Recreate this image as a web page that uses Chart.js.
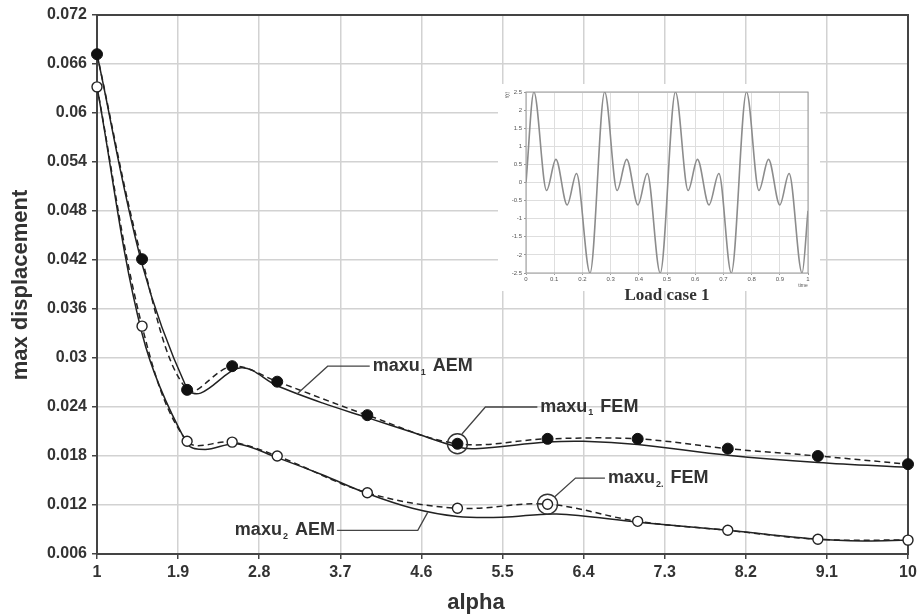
<!DOCTYPE html>
<html>
<head>
<meta charset="utf-8">
<script src="https://cdn.jsdelivr.net/npm/chart.js@4.4.1/dist/chart.umd.min.js"></script>
<style>
  html, body { margin: 0; padding: 0; background: #fff; }
  #contenedor { position: relative; width: 921px; height: 616px; }
  #graficaPrincipal { position: absolute; left: 0; top: 0; }
  #graficaCarga { position: absolute; left: 500px; top: 84px; }
</style>
</head>
<body>
<div id="contenedor">
  <canvas id="graficaPrincipal" width="921" height="616"></canvas>
  <canvas id="graficaCarga" width="318" height="205"></canvas>
</div>
<script>
// ---- Datos: desplazamiento máximo vs alpha ----
const alphaFem = [1, 1.5, 2, 2.5, 3, 4, 5, 6, 7, 8, 9, 10];
const maxu1Fem = [0.0672, 0.0421, 0.0261, 0.0290, 0.0271, 0.0230, 0.0195, 0.0201, 0.0201, 0.0189, 0.0180, 0.0170];
const maxu2Fem = [0.0632, 0.0339, 0.0198, 0.0197, 0.0180, 0.0135, 0.0116, 0.0121, 0.0100, 0.0089, 0.0078, 0.0077];

const alphaAem1 = [1, 1.5, 2, 2.15, 2.6, 3, 3.5, 4, 4.5, 5, 5.2, 6, 6.4, 7, 8, 9, 10];
const maxu1Aem  = [0.0672, 0.0415, 0.0262, 0.0257, 0.0288, 0.0266, 0.0245, 0.0227, 0.0209, 0.0191, 0.0189, 0.0197, 0.0198, 0.0194, 0.0181, 0.0172, 0.0166];
const alphaAem2 = [1, 1.5, 2, 2.2, 2.55, 3, 3.5, 4, 4.5, 5, 5.5, 6.1, 7, 8, 9, 9.5, 10];
const maxu2Aem  = [0.0632, 0.0330, 0.0195, 0.0188, 0.0195, 0.0178, 0.0157, 0.0134, 0.0116, 0.0106, 0.0105, 0.0109, 0.0099, 0.0089, 0.0078, 0.0076, 0.0077];

const ticksAlpha = [1, 1.9, 2.8, 3.7, 4.6, 5.5, 6.4, 7.3, 8.2, 9.1, 10];
const ticksDesp  = [0.006, 0.012, 0.018, 0.024, 0.03, 0.036, 0.042, 0.048, 0.054, 0.06, 0.066, 0.072];

// ---- Datos: caso de carga 1, f(t) ----
const cargaT = [0, 0.028, 0.073, 0.106, 0.146, 0.179, 0.227,
                0.279, 0.323, 0.357, 0.397, 0.430, 0.476,
                0.530, 0.575, 0.608, 0.649, 0.684, 0.728,
                0.782, 0.826, 0.860, 0.900, 0.933, 0.979, 1];
const cargaF = [0, 2.5, -0.22, 0.64, -0.62, 0.25, -2.5,
                2.5, -0.22, 0.64, -0.62, 0.25, -2.5,
                2.5, -0.22, 0.64, -0.62, 0.25, -2.5,
                2.5, -0.22, 0.64, -0.62, 0.25, -2.5, -0.78];
const ticksTiempo = [0, 0.1, 0.2, 0.3, 0.4, 0.5, 0.6, 0.7, 0.8, 0.9, 1];
const ticksCarga  = [-2.5, -2, -1.5, -1, -0.5, 0, 0.5, 1, 1.5, 2, 2.5];

const FUENTE = '"Liberation Sans", Arial, sans-serif';
const puntos = (xs, ys) => xs.map((x, i) => ({ x: x, y: ys[i] }));
const formato = v => String(+Number(v).toFixed(3));

// Rótulos con línea guía (coordenadas en unidades de los ejes)
const etiquetas = [
  { sub: '1',  resto: ' AEM', texto: [4.06, 0.0290], guia: [[3.56, 0.0290], [3.22, 0.0256]] },
  { sub: '1',  resto: ' FEM', texto: [5.92, 0.0240], guia: [[5.31, 0.0240], [5.05, 0.0207]] },
  { sub: '2.', resto: ' FEM', texto: [6.67, 0.0153], guia: [[6.31, 0.0153], [6.08, 0.0130]] },
  { sub: '2',  resto: ' AEM', texto: [2.53, 0.0089], guia: [[4.56, 0.0089], [4.67, 0.0111]], guiaDesdeFinal: true }
];

function dibujarEtiqueta(ctx, x0, y0, sub, resto) {
  ctx.fillStyle = '#333';
  ctx.textAlign = 'left';
  ctx.textBaseline = 'middle';
  ctx.font = 'bold 18px ' + FUENTE;
  ctx.fillText('maxu', x0, y0);
  let w = ctx.measureText('maxu').width + 1;
  ctx.font = 'bold 9px ' + FUENTE;
  ctx.fillText(sub, x0 + w, y0 + 6);
  w += ctx.measureText(sub).width + 2;
  ctx.font = 'bold 18px ' + FUENTE;
  ctx.fillText(resto, x0 + w, y0);
  return x0 + w + ctx.measureText(resto).width;
}

const pluginAnotaciones = {
  id: 'anotaciones',
  beforeDatasetsDraw(chart) {
    // fondo blanco para la gráfica de carga
    const ctx = chart.ctx;
    ctx.save();
    ctx.fillStyle = '#fff';
    ctx.fillRect(498, 84, 322, 207);
    ctx.restore();
  },
  afterDraw(chart) {
    const { ctx, chartArea: ca, scales: { x, y } } = chart;
    const px = v => x.getPixelForValue(v);
    const py = v => y.getPixelForValue(v);
    ctx.save();

    // círculos dobles en los puntos señalados
    ctx.lineWidth = 1.4;
    ctx.strokeStyle = '#333';
    [[alphaFem[6], maxu1Fem[6]], [alphaFem[7], maxu2Fem[7]]].forEach(p => {
      ctx.beginPath();
      ctx.arc(px(p[0]), py(p[1]), 10, 0, Math.PI * 2);
      ctx.stroke();
    });

    // rótulos y líneas guía
    etiquetas.forEach(et => {
      const tx = px(et.texto[0]), ty = py(et.texto[1]);
      const fin = dibujarEtiqueta(ctx, tx, ty, et.sub, et.resto);
      ctx.strokeStyle = '#444';
      ctx.lineWidth = 1.3;
      ctx.beginPath();
      ctx.moveTo(et.guiaDesdeFinal ? fin + 2 : tx - 3, ty);
      et.guia.forEach(g => ctx.lineTo(px(g[0]), py(g[1])));
      ctx.stroke();
    });

    // títulos de ejes
    ctx.fillStyle = '#333';
    ctx.font = 'bold 22px ' + FUENTE;
    ctx.textAlign = 'center';
    ctx.textBaseline = 'middle';
    ctx.fillText('alpha', 476, 603);
    ctx.save();
    ctx.translate(21, 285);
    ctx.rotate(-Math.PI / 2);
    ctx.fillText('max displacement', 0, 0);
    ctx.restore();

    // pie de la gráfica de carga
    ctx.fillStyle = '#333';
    ctx.font = 'bold 17px "Liberation Serif", "Times New Roman", serif';
    ctx.fillText('Load case 1', 667, 296);
    ctx.restore();
  }
};

// marco del área de trazado, debajo de los marcadores
const pluginMarco = {
  id: 'marco',
  beforeDatasetsDraw(chart) {
    const { ctx, chartArea: ca } = chart;
    ctx.save();
    ctx.strokeStyle = '#444';
    ctx.lineWidth = 2;
    ctx.strokeRect(ca.left, ca.top, ca.right - ca.left, ca.bottom - ca.top);
    ctx.restore();
  }
};

new Chart(document.getElementById('graficaPrincipal'), {
  type: 'line',
  data: {
    datasets: [
      { label: 'maxu1 FEM', data: puntos(alphaFem, maxu1Fem), order: 0, clip: false,
        borderColor: '#222', borderWidth: 1.5, borderDash: [6, 4],
        pointRadius: 5.5, pointBackgroundColor: '#111', pointBorderColor: '#111', pointBorderWidth: 1,
        tension: 0.35, fill: false },
      { label: 'maxu2 FEM', data: puntos(alphaFem, maxu2Fem), order: 0, clip: false,
        borderColor: '#222', borderWidth: 1.5, borderDash: [6, 4],
        pointRadius: 5, pointBackgroundColor: '#fff', pointBorderColor: '#222', pointBorderWidth: 1.4,
        tension: 0.35, fill: false },
      { label: 'maxu1 AEM', data: puntos(alphaAem1, maxu1Aem), order: 1,
        borderColor: '#222', borderWidth: 1.5, pointRadius: 0,
        tension: 0.35, fill: false },
      { label: 'maxu2 AEM', data: puntos(alphaAem2, maxu2Aem), order: 1,
        borderColor: '#222', borderWidth: 1.5, pointRadius: 0,
        tension: 0.35, fill: false }
    ]
  },
  options: {
    responsive: false, animation: false, events: [],
    layout: { padding: { top: 15, right: 13, left: 0, bottom: 0 } },
    plugins: { legend: { display: false }, tooltip: { enabled: false } },
    scales: {
      x: {
        type: 'linear', min: 1, max: 10,
        afterBuildTicks: eje => { eje.ticks = ticksAlpha.map(v => ({ value: v })); },
        afterFit: eje => { eje.height = 62; },
        grid: { color: '#d2d2d2', lineWidth: 1.5, tickLength: 5, tickColor: '#444', tickWidth: 1.5 },
        border: { display: false },
        ticks: { callback: formato, autoSkip: false, maxRotation: 0, padding: 4,
                 color: '#333', font: { family: FUENTE, size: 16, weight: 'bold' } }
      },
      y: {
        type: 'linear', min: 0.006, max: 0.072,
        afterBuildTicks: eje => { eje.ticks = ticksDesp.map(v => ({ value: v })); },
        afterFit: eje => { eje.width = 97; },
        grid: { color: '#d2d2d2', lineWidth: 1.5, tickLength: 5, tickColor: '#444', tickWidth: 1.5 },
        border: { display: false },
        ticks: { callback: formato, autoSkip: false, padding: 5,
                 color: '#333', font: { family: FUENTE, size: 16, weight: 'bold' } }
      }
    }
  },
  plugins: [pluginMarco, pluginAnotaciones]
});

// ---- Gráfica pequeña: f(t) del caso de carga ----
const pluginRotulosCarga = {
  id: 'rotulosCarga',
  afterDraw(chart) {
    const { ctx, chartArea: ca } = chart;
    ctx.save();
    ctx.strokeStyle = '#9a9a9a';
    ctx.lineWidth = 1;
    ctx.strokeRect(ca.left, ca.top, ca.right - ca.left, ca.bottom - ca.top);
    ctx.fillStyle = '#555';
    ctx.font = '5px ' + FUENTE;
    ctx.textAlign = 'center';
    ctx.textBaseline = 'middle';
    ctx.fillText('time', ca.right - 5, 202);
    ctx.translate(8, ca.top + 3);
    ctx.rotate(-Math.PI / 2);
    ctx.fillText('f(t)', 0, 0);
    ctx.restore();
  }
};

new Chart(document.getElementById('graficaCarga'), {
  type: 'line',
  data: {
    datasets: [{ data: puntos(cargaT, cargaF), borderColor: '#8c8c8c', borderWidth: 1.6,
                 pointRadius: 0, cubicInterpolationMode: 'monotone', fill: false }]
  },
  options: {
    responsive: false, animation: false, events: [],
    layout: { padding: { top: 8, right: 10, left: 0, bottom: 0 } },
    plugins: { legend: { display: false }, tooltip: { enabled: false } },
    scales: {
      x: {
        type: 'linear', min: 0, max: 1,
        afterBuildTicks: eje => { eje.ticks = ticksTiempo.map(v => ({ value: v })); },
        afterFit: eje => { eje.height = 16; },
        grid: { color: '#dedede', lineWidth: 1, tickLength: 2, tickColor: '#999' },
        border: { display: false },
        ticks: { callback: formato, autoSkip: false, maxRotation: 0, padding: 1,
                 color: '#555', font: { family: FUENTE, size: 6 } }
      },
      y: {
        type: 'linear', min: -2.5, max: 2.5,
        afterBuildTicks: eje => { eje.ticks = ticksCarga.map(v => ({ value: v })); },
        afterFit: eje => { eje.width = 26; },
        grid: { color: '#dedede', lineWidth: 1, tickLength: 2, tickColor: '#999' },
        border: { display: false },
        ticks: { callback: formato, autoSkip: false, padding: 2,
                 color: '#555', font: { family: FUENTE, size: 6 } }
      }
    }
  },
  plugins: [pluginRotulosCarga]
});
</script>
</body>
</html>
